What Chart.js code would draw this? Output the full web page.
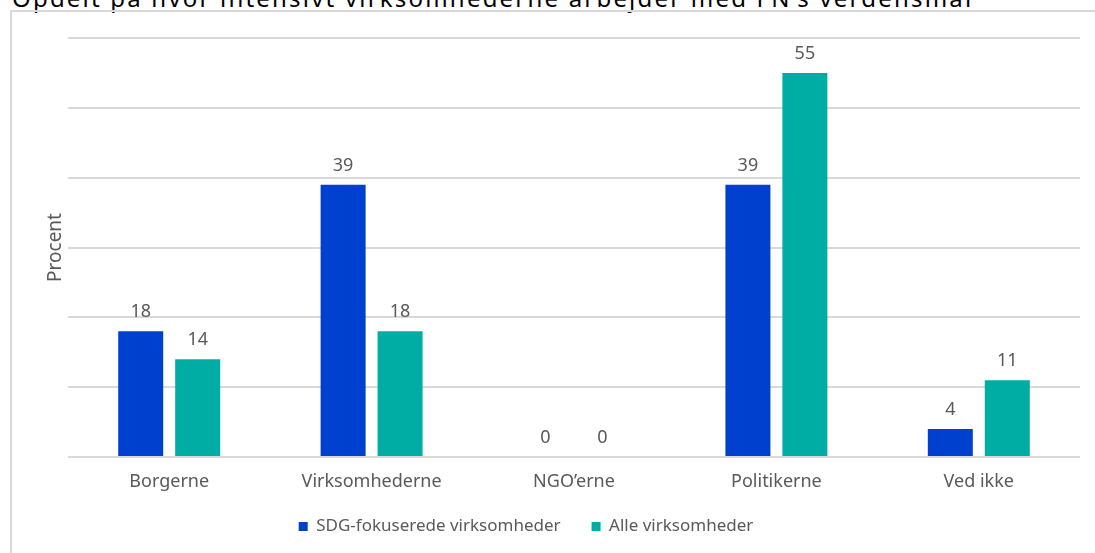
<!DOCTYPE html>
<html>
<head>
<meta charset="utf-8">
<script src="https://cdn.jsdelivr.net/npm/chart.js@4.4.0/dist/chart.umd.min.js"></script>
<style>
  html, body { margin: 0; padding: 0; background: #fff; overflow: hidden; }
  #wrap { position: relative; width: 1095px; height: 553px; overflow: hidden; }
  #title { position: absolute; left: 12px; top: -19px; font: 24px "Noto Sans", sans-serif; letter-spacing: 2.2px; color: #000; white-space: nowrap; }
  #frame { position: absolute; left: 10px; top: 10px; width: 1200px; height: 700px; border: 2px solid #d9d9d9; }
  canvas { position: absolute; left: 0; top: 0; }
</style>
</head>
<body>
<div id="wrap">
  <div id="title">Opdelt på hvor intensivt virksomhederne arbejder med FN’s verdensmål</div>
  <div id="frame"></div>
  <canvas id="chart" width="1095" height="553"></canvas>
</div>
<script>
const categories = ['Borgerne', 'Virksomhederne', 'NGO’erne', 'Politikerne', 'Ved ikke'];
const sdgValues = [18, 39, 0, 39, 4];
const allValues = [14, 18, 0, 55, 11];
const seriesNames = ['SDG-fokuserede virksomheder', 'Alle virksomheder'];

const textGrey = '#595959';
const fontFamily = '"Noto Sans", sans-serif';

// draws the number above each bar
const valueLabels = {
  id: 'valueLabels',
  afterDatasetsDraw(chart) {
    const ctx = chart.ctx;
    ctx.save();
    ctx.fillStyle = textGrey;
    ctx.font = '18px ' + fontFamily;
    ctx.textAlign = 'center';
    ctx.textBaseline = 'bottom';
    chart.data.datasets.forEach((ds, i) => {
      chart.getDatasetMeta(i).data.forEach((bar, j) => {
        ctx.fillText(String(ds.data[j]), bar.x, bar.y - 10);
      });
    });
    ctx.restore();
  }
};

// legend in the original sits a bit left of centre and close under the labels
const legendShift = {
  id: 'legendShift',
  afterLayout(chart) {
    const lg = chart.legend;
    lg.left -= 34;
    lg.right -= 34;
    lg.top -= 8;
    lg.bottom -= 8;
  }
};

Chart.defaults.font.family = fontFamily;
Chart.defaults.color = textGrey;

new Chart(document.getElementById('chart').getContext('2d'), {
  type: 'bar',
  data: {
    labels: categories,
    datasets: [
      { label: seriesNames[0], data: sdgValues, backgroundColor: 'rgb(0, 64, 206)' },
      { label: seriesNames[1], data: allValues, backgroundColor: 'rgb(0, 173, 165)' }
    ]
  },
  options: {
    responsive: false,
    animation: false,
    events: [],
    layout: { padding: { left: 40, right: 15, top: 38, bottom: 0 } },
    datasets: { bar: { categoryPercentage: 0.563, barPercentage: 0.79 } },
    scales: {
      x: {
        grid: { display: false, drawTicks: false },
        border: { display: false },
        ticks: { padding: 14, font: { size: 18 }, color: textGrey },
        afterFit(scale) { scale.height = 38; }
      },
      y: {
        min: 0,
        max: 60,
        ticks: { display: false, stepSize: 10 },
        grid: { color: '#d9d9d9', lineWidth: 2, drawTicks: false },
        border: { display: false },
        title: { display: true, text: 'Procent', font: { size: 19 }, color: textGrey, padding: 4 },
        afterFit(scale) { scale.width = 28; }
      }
    },
    plugins: {
      legend: {
        position: 'bottom',
        labels: { boxWidth: 9, boxHeight: 9, font: { size: 17 }, color: textGrey, padding: 31 }
      },
      tooltip: { enabled: false }
    }
  },
  plugins: [valueLabels, legendShift]
});
</script>
</body>
</html>
